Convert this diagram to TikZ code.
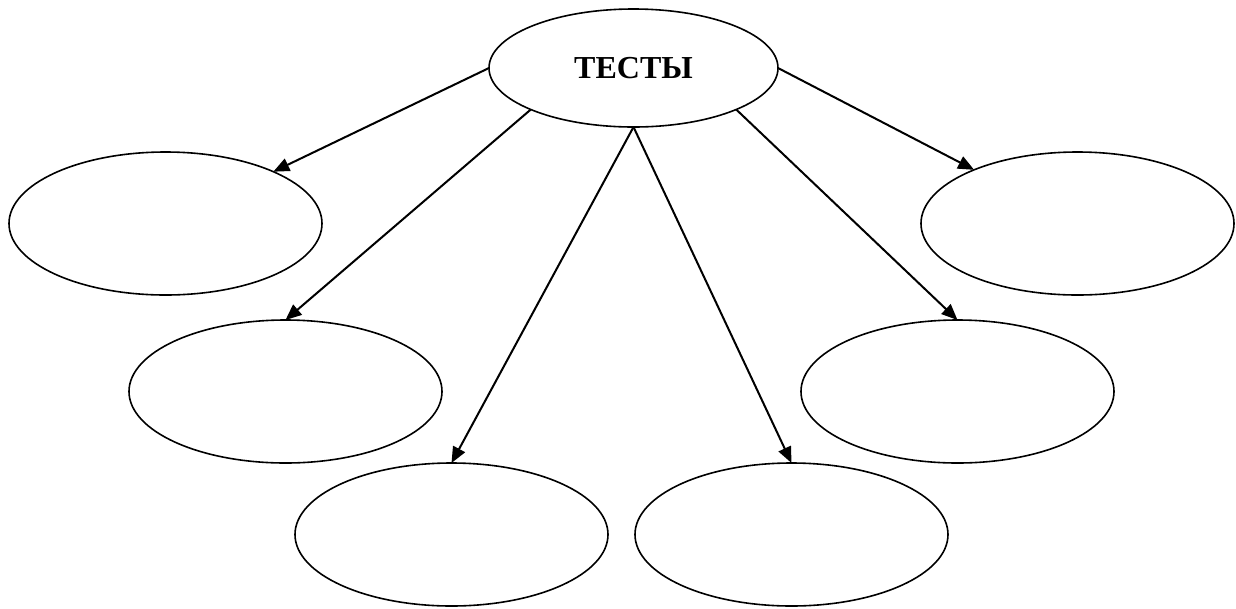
\documentclass[tikz,border=0pt]{standalone}
\usepackage{fontspec}
\setmainfont{Liberation Serif}
\usetikzlibrary{shapes.geometric,arrows.meta}

\tikzset{
  oval/.style={draw, ellipse, line width=1.2pt, inner sep=0pt, outer sep=0pt,
    minimum width=234.75pt, minimum height=107.25pt},
  link/.style={line width=1.5pt, -{Triangle[length=12pt,width=10pt]}}
}

\begin{document}
\begin{tikzpicture}[x=0.75pt,y=0.75pt,yscale=-1,xscale=1]
\useasboundingbox (0,0) rectangle (1236,608);

%Shape: Ellipse (top)
\node[oval, minimum width=216.75pt, minimum height=88.5pt] (tests) at (633.5,68)
  {\fontsize{24}{28}\selectfont\bfseries ТЕСТЫ};
%Shape: Ellipse (left)
\node[oval] (left1) at (165.5,223.5) {};
%Shape: Ellipse
\node[oval] (left2) at (285.5,391.5) {};
%Shape: Ellipse (bottom)
\node[oval] (bot1) at (451.5,534.5) {};
%Shape: Ellipse
\node[oval] (bot2) at (791.5,534.5) {};
%Shape: Ellipse (right)
\node[oval] (right2) at (957.5,391.5) {};
%Shape: Ellipse
\node[oval] (right1) at (1077.5,223.5) {};

%Straight Lines
\draw[link] (tests.180) -- (left1);
\draw[link] (tests.202) -- (left2.north);
\draw[link] (tests.270) -- (bot1.north);
\draw[link] (tests.270) -- (bot2.north);
\draw[link] (tests.338) -- (right2.north);
\draw[link] (tests.0) -- (right1);

\end{tikzpicture}
\end{document}
